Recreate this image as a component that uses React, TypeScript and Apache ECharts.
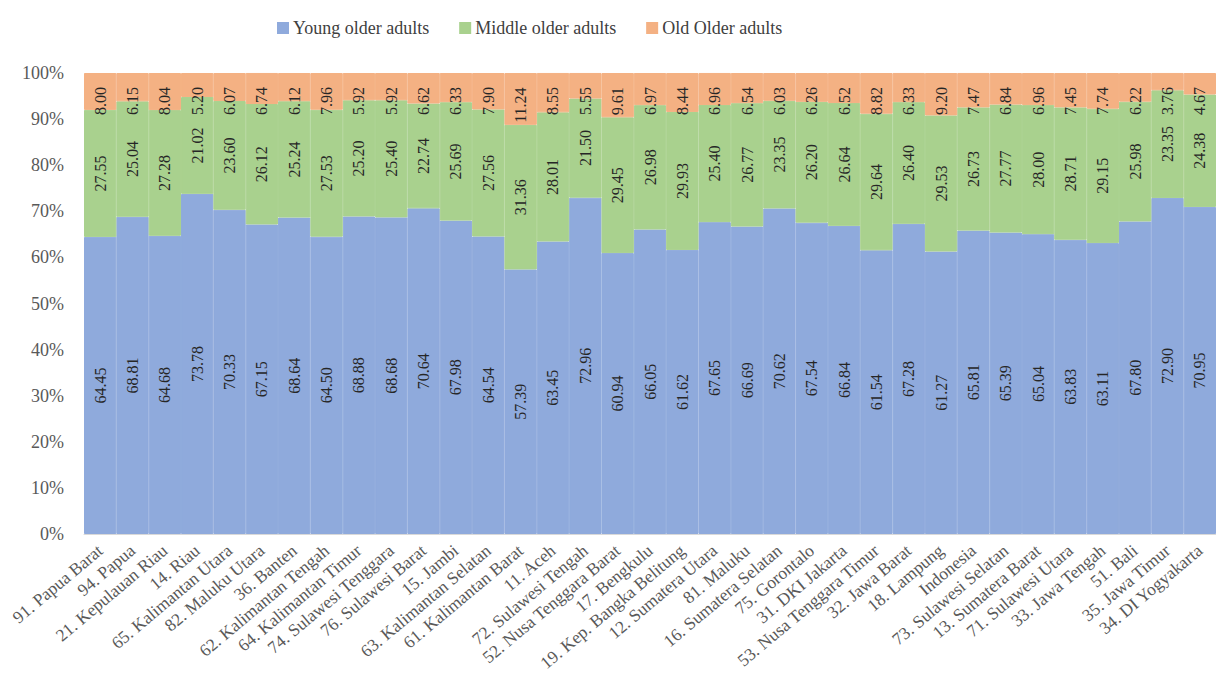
import React, { useEffect, useRef } from "react";
import * as echarts from "echarts";

const categories = [
  "91. Papua Barat", "94. Papua", "21. Kepulauan Riau", "14. Riau", "65. Kalimantan Utara",
  "82. Maluku Utara", "36. Banten", "62. Kalimantan Tengah", "64. Kalimantan Timur",
  "74. Sulawesi Tenggara", "76. Sulawesi Barat", "15. Jambi", "63. Kalimantan Selatan",
  "61. Kalimantan Barat", "11. Aceh", "72. Sulawesi Tengah", "52. Nusa Tenggara Barat",
  "17. Bengkulu", "19. Kep. Bangka Belitung", "12. Sumatera Utara", "81. Maluku",
  "16. Sumatera Selatan", "75. Gorontalo", "31. DKI Jakarta", "53. Nusa Tenggara Timur",
  "32. Jawa Barat", "18. Lampung", "Indonesia", "73. Sulawesi Selatan", "13. Sumatera Barat",
  "71. Sulawesi Utara", "33. Jawa Tengah", "51. Bali", "35. Jawa Timur", "34. DI Yogyakarta",
];

const youngOlder = [
  64.45, 68.81, 64.68, 73.78, 70.33, 67.15, 68.64, 64.5, 68.88, 68.68, 70.64, 67.98, 64.54,
  57.39, 63.45, 72.96, 60.94, 66.05, 61.62, 67.65, 66.69, 70.62, 67.54, 66.84, 61.54, 67.28,
  61.27, 65.81, 65.39, 65.04, 63.83, 63.11, 67.8, 72.9, 70.95,
];

const middleOlder = [
  27.55, 25.04, 27.28, 21.02, 23.6, 26.12, 25.24, 27.53, 25.2, 25.4, 22.74, 25.69, 27.56,
  31.36, 28.01, 21.5, 29.45, 26.98, 29.93, 25.4, 26.77, 23.35, 26.2, 26.64, 29.64, 26.4,
  29.53, 26.73, 27.77, 28.0, 28.71, 29.15, 25.98, 23.35, 24.38,
];

const oldOlder = [
  8.0, 6.15, 8.04, 5.2, 6.07, 6.74, 6.12, 7.96, 5.92, 5.92, 6.62, 6.33, 7.9, 11.24, 8.55,
  5.55, 9.61, 6.97, 8.44, 6.96, 6.54, 6.03, 6.26, 6.52, 8.82, 6.33, 9.2, 7.47, 6.84, 6.96,
  7.45, 7.74, 6.22, 3.76, 4.67,
];

const seriesNames = ["Young older adults", "Middle older adults", "Old Older adults"];
const colors = ["#8FAADC", "#A9D18E", "#F4B183"];

const FONT = "Liberation Serif";
const GRID_TOP = 73;

export default function App() {
  const ref = useRef<HTMLDivElement>(null);

  useEffect(() => {
    if (!ref.current) return;
    const chart = echarts.init(ref.current, undefined, { renderer: "svg" });
    const mk = (name: string, data: number[], color: string, extra: any = {}) => ({
      name,
      type: "bar",
      stack: "total",
      data,
      barCategoryGap: "0%",
      itemStyle: { color, borderColor: color, borderWidth: 1 },
      label: {
        show: true,
        position: "inside",
        rotate: 90,
        formatter: (p: any) => Number(p.value).toFixed(2),
        fontFamily: FONT,
        fontSize: 16,
        color: "#262626",
        textBorderWidth: 0,
      },
      ...extra,
    });
    chart.setOption({
      animation: false,
      textStyle: { fontFamily: FONT },
      legend: {
        left: 272,
        top: 14,
        icon: "rect",
        itemWidth: 10,
        itemHeight: 10,
        itemGap: 30,
        textStyle: { fontFamily: FONT, fontSize: 18, color: "#404040" },
        data: seriesNames,
      },
      grid: { left: 84, top: GRID_TOP, width: 1137, bottom: 150, containLabel: false },
      xAxis: {
        type: "category",
        data: categories,
        axisLine: { show: true, lineStyle: { color: "#D9D9D9" } },
        axisTick: { show: false },
        axisLabel: {
          interval: 0,
          rotate: 40,
          fontFamily: FONT,
          fontSize: 17.5,
          color: "#595959",
          margin: 14,
        },
      },
      yAxis: {
        type: "value",
        min: 0,
        max: 100,
        interval: 10,
        axisLine: { show: false },
        axisTick: { show: false },
        splitLine: { show: false },
        axisLabel: {
          formatter: "{value}%",
          fontFamily: FONT,
          fontSize: 18,
          color: "#595959",
          margin: 20,
        },
      },
      series: [
        mk(seriesNames[0], youngOlder, colors[0]),
        mk(seriesNames[1], middleOlder, colors[1]),
        mk(seriesNames[2], oldOlder, colors[2], {
          labelLayout: (params: any) => {
            const r = params.rect;
            const lr = params.labelRect;
            if (!r || !lr) return {};
            const h = lr.height;
            const cur = lr.y + h / 2;
            let center = r.y + r.height - 2 - h / 2;
            const minCenter = GRID_TOP + 14 + h / 2;
            if (center < minCenter) center = minCenter;
            return { dx: -(center - cur) };
          },
        }),
      ],
    });
    return () => chart.dispose();
  }, []);

  return (
    <div
      ref={ref}
      style={{ position: "fixed", left: 0, top: 0, width: 1216, height: 684, background: "#fff" }}
    />
  );
}
